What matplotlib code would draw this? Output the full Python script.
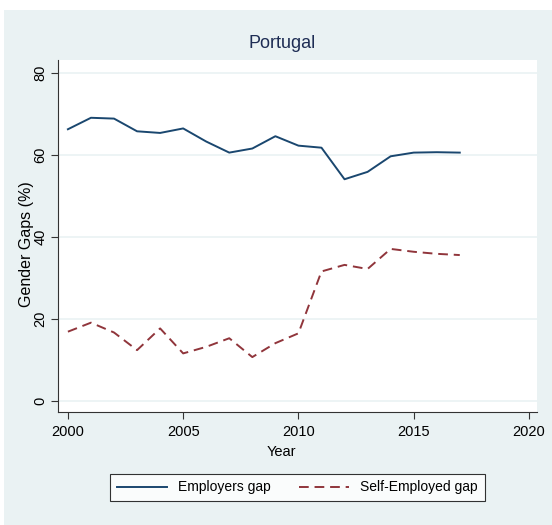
import matplotlib
matplotlib.use("Agg")
import matplotlib.pyplot as plt
from matplotlib.patches import Rectangle

years = list(range(2000, 2018))
employers_gap = [66.3, 69.1, 68.9, 65.8, 65.4, 66.5, 63.3, 60.6, 61.6, 64.6, 62.3, 61.8,
                 54.1, 55.9, 59.7, 60.6, 60.7, 60.6]
self_employed_gap = [16.9, 19.1, 16.7, 12.4, 17.7, 11.6, 13.2, 15.3, 10.7, 14.1, 16.5, 31.6,
                     33.2, 32.2, 37.1, 36.4, 35.9, 35.6]
x_ticks = [2000, 2005, 2010, 2015, 2020]
y_ticks = [0, 20, 40, 60, 80]

FONT = ["Liberation Sans Narrow", "Liberation Sans", "DejaVu Sans"]
plt.rcParams['font.family'] = FONT

W, H = 552, 525
fig = plt.figure(figsize=(W / 100, H / 100), dpi=100)
fig.patch.set_facecolor("white")
bg = Rectangle((4 / W, 0), 1 - 4 / W, 1 - 10 / H, transform=fig.transFigure,
               facecolor="#EAF2F3", edgecolor="none", zorder=-10)
fig.patches.append(bg)

ax = fig.add_axes([58 / W, 1 - 412 / H, (537 - 58) / W, (412 - 60) / H])
ax.set_facecolor("white")

blue = "#1A476F"
red = "#90353B"
ax.plot(years, employers_gap, color=blue, lw=1.4, label="Employers gap")
ax.plot(years, self_employed_gap, color=red, lw=1.4, ls=(0, (5, 3)), label="Self-Employed gap")

ax.set_xlim(1999.57, 2020.35)
ax.set_ylim(-2.7, 83.2)
ax.set_xticks(x_ticks)
ax.set_yticks(y_ticks)
ax.set_yticklabels([str(v) for v in y_ticks], rotation=90, va="center")
ax.tick_params(axis="both", direction="out", length=5, width=0.8, color="#333333",
               labelsize=10.5, labelcolor="black", pad=2.5)
ax.tick_params(axis="x", pad=4)
ax.grid(axis="y", color="#EAF2F3", lw=1.2)
ax.grid(axis="x", visible=False)
ax.set_axisbelow(True)
for s in ["top", "right"]:
    ax.spines[s].set_visible(False)
for s in ["left", "bottom"]:
    ax.spines[s].set_color("#333333")
    ax.spines[s].set_linewidth(0.8)

fig.text(281 / W, 1 - 452 / H, "Year", ha="center", va="center", fontsize=10.5)
fig.text(27 / W, 1 - 244 / H, "Gender Gaps (%)", rotation=90,
         ha="center", va="center", fontsize=11.5)
fig.text(282 / W, 1 - 43 / H, "Portugal", ha="center", va="center", fontsize=13,
         color="#1E2D54")

leg = fig.legend(loc="center", bbox_to_anchor=(297.5 / W, 1 - 487.5 / H), ncol=2,
                 fontsize=10, frameon=True, fancybox=False, edgecolor="black",
                 handlelength=3.6, columnspacing=2.0, borderpad=0.5, handletextpad=0.8)
leg.get_frame().set_linewidth(0.8)

fig.savefig("out.png", dpi=100, facecolor=fig.get_facecolor())
